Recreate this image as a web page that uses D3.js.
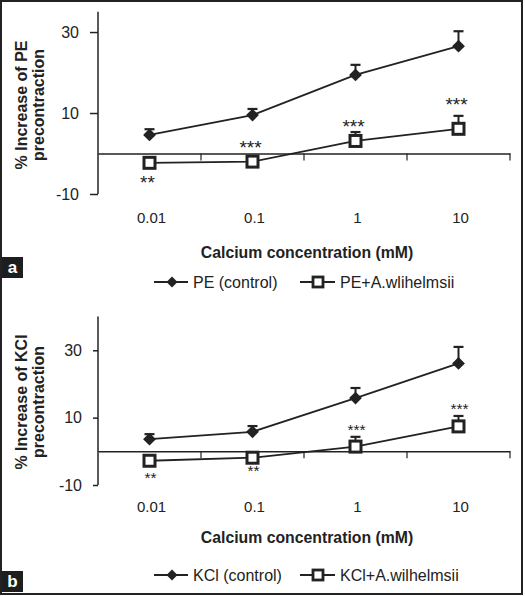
<!DOCTYPE html>
<html>
<head>
<meta charset="utf-8">
<script src="https://cdn.jsdelivr.net/npm/d3@7/dist/d3.min.js"></script>
<style>
  html, body { margin: 0; padding: 0; background: #fff; }
  svg { display: block; }
  text { font-family: Arial, "Liberation Sans", sans-serif; fill: #222; }
</style>
</head>
<body>
<svg id="chart" width="525" height="596"></svg>
<script>
// ---- data ----
const categories = ["0.01", "0.1", "1", "10"];
const yTicksA = [-10, 10, 30];
const yTicksB = [-10, 10, 30];

const peControl = [4.6, 9.5, 19.4, 26.5];
const peControlErr = [1.4, 1.5, 2.5, 3.7];
const peExtract = [-2.3, -2.0, 3.1, 6.1];
const peExtractErr = [0.5, 0.5, 2.2, 3.2];
const peStars = ["**", "***", "***", "***"];
const peStarY = [-6.0, 2.6, 7.8, 13.2];

const kclControl = [3.6, 5.8, 15.8, 26.1];
const kclControlErr = [1.5, 1.7, 3.0, 4.9];
const kclExtract = [-2.8, -1.9, 1.4, 7.4];
const kclExtractErr = [0.5, 0.5, 2.9, 3.1];
const kclStars = ["**", "**", "***", "***"];
const kclStarY = [-6.7, -4.6, 7.6, 13.7];

const legendA = ["PE (control)", "PE+A.wlihelmsii"];
const legendB = ["KCl (control)", "KCl+A.wilhelmsii"];
const yLabelA = ["% Increase of PE", "precontraction"];
const yLabelB = ["% Increase of KCl", "precontraction"];
const xTitle = "Calcium concentration (mM)";

const svg = d3.select("#chart");
const ink = "#222";

function drawPanel(cfg) {
  const g = svg.append("g").attr("transform", `translate(0,${cfg.offset})`);
  const x = d3.scaleBand().domain(categories).range([98, 510]);
  const y = d3.scaleLinear().domain(cfg.yDomain).range(cfg.yRange);
  const cx = d => x(d) + x.bandwidth() / 2;

  // y axis
  const yAxis = g.append("g").attr("transform", "translate(98,0)")
    .call(d3.axisLeft(y).tickValues(cfg.yTicks).tickSize(cfg.tickLen).tickPadding(cfg.tickPad).tickFormat(d3.format("d")));
  yAxis.select(".domain").attr("d", `M0,${y(cfg.yDomain[1])}V${y(cfg.yDomain[0])}`).attr("stroke", ink).attr("stroke-width", 1.5);
  yAxis.selectAll(".tick line").attr("stroke", ink).attr("stroke-width", 1.5);
  yAxis.selectAll(".tick text").attr("font-size", 16).attr("fill", ink)
    .style("font-family", 'Arial, "Liberation Sans", sans-serif')
    .text(d => d < 0 ? "-" + Math.abs(d) : d);

  // x axis at zero
  const xAxis = g.append("g").attr("transform", `translate(0,${y(0)})`)
    .call(d3.axisBottom(x).tickSize(0).tickFormat(""));
  xAxis.select(".domain").attr("stroke", ink).attr("stroke-width", 1.5);
  xAxis.selectAll(".tick").remove();
  const bounds = categories.map(c => x(c) + x.bandwidth());
  xAxis.selectAll("line.bt").data(bounds).join("line").attr("class", "bt")
    .attr("x1", d => d).attr("x2", d => d).attr("y1", 0).attr("y2", 7)
    .attr("stroke", ink).attr("stroke-width", 1.2);

  // x tick labels
  g.selectAll("text.xl").data(categories).join("text").attr("class", "xl")
    .attr("x", d => cx(d) + 2).attr("y", cfg.xLabelY)
    .attr("text-anchor", "middle").attr("font-size", 15).text(d => d);

  // x title
  g.append("text").attr("x", 307).attr("y", cfg.xTitleY).attr("text-anchor", "middle")
    .attr("font-size", 15.8).attr("font-weight", "bold").text(xTitle);

  // y title
  cfg.yLabel.forEach((t, i) => {
    g.append("text").attr("transform", `translate(${i === 0 ? 27 : 44},${cfg.yLabelCY}) rotate(-90)`)
      .attr("text-anchor", "middle").attr("font-size", 16).attr("font-weight", "bold").text(t);
  });

  const line = d3.line().x((d, i) => cx(categories[i])).y(d => y(d));

  [ {vals: cfg.control, err: cfg.controlErr}, {vals: cfg.extract, err: cfg.extractErr} ].forEach(s => {
    g.append("path").datum(s.vals).attr("d", line).attr("fill", "none")
      .attr("stroke", ink).attr("stroke-width", 1.8);
    s.vals.forEach((v, i) => {
      const px = cx(categories[i]);
      g.append("line").attr("x1", px).attr("x2", px).attr("y1", y(v)).attr("y2", y(v + s.err[i]))
        .attr("stroke", ink).attr("stroke-width", 2);
      g.append("line").attr("x1", px - 5).attr("x2", px + 5).attr("y1", y(v + s.err[i])).attr("y2", y(v + s.err[i]))
        .attr("stroke", ink).attr("stroke-width", 2.2);
    });
  });

  // diamonds
  g.selectAll("path.dm").data(cfg.control).join("path").attr("class", "dm")
    .attr("d", d3.symbol().type(d3.symbolSquare).size(82)())
    .attr("transform", (d, i) => `translate(${cx(categories[i])},${y(d)}) rotate(45)`)
    .attr("fill", ink);
  // squares
  g.selectAll("rect.sq").data(cfg.extract).join("rect").attr("class", "sq")
    .attr("x", (d, i) => cx(categories[i]) - 5.5).attr("y", d => y(d) - 5.5)
    .attr("width", 11).attr("height", 11)
    .attr("fill", "#fff").attr("stroke", ink).attr("stroke-width", 3);

  // stars
  g.selectAll("text.st").data(cfg.stars).join("text").attr("class", "st")
    .attr("x", (d, i) => cx(categories[i]) + cfg.starDx)
    .attr("y", (d, i) => y(cfg.starY[i]) + cfg.starFs * 0.59)
    .attr("text-anchor", "middle").attr("font-size", cfg.starFs).text(d => d);

  // legend
  const ly = cfg.legendY;
  g.append("line").attr("x1", 154).attr("x2", 188).attr("y1", ly).attr("y2", ly).attr("stroke", ink).attr("stroke-width", 1.8);
  g.append("path").attr("d", d3.symbol().type(d3.symbolSquare).size(60)())
    .attr("transform", `translate(172,${ly}) rotate(45)`).attr("fill", ink);
  g.append("text").attr("x", 193).attr("y", ly + 6).attr("font-size", 16).text(cfg.legend[0]);
  g.append("line").attr("x1", 300).attr("x2", 335).attr("y1", ly).attr("y2", ly).attr("stroke", ink).attr("stroke-width", 1.8);
  g.append("rect").attr("x", 313).attr("y", ly - 5).attr("width", 10).attr("height", 10)
    .attr("fill", "#fff").attr("stroke", ink).attr("stroke-width", 2.8);
  g.append("text").attr("x", 340).attr("y", ly + 6).attr("font-size", 16).text(cfg.legend[1]);

  // panel letter
  g.append("rect").attr("x", 2).attr("y", cfg.letterY).attr("width", 21).attr("height", 21).attr("fill", "#1e1e1e");
  g.append("text").attr("x", 12.5).attr("y", cfg.letterY + 16).attr("text-anchor", "middle")
    .attr("font-size", 17).attr("font-weight", "bold").style("fill", "#fff").text(cfg.letter);
}

drawPanel({
  offset: 0, yDomain: [-10, 35], yRange: [194, 11.8], yTicks: yTicksA, tickLen: 8, tickPad: 11,
  control: peControl, controlErr: peControlErr, extract: peExtract, extractErr: peExtractErr,
  stars: peStars, starY: peStarY, starFs: 19, starDx: -2,
  xLabelY: 223, xTitleY: 258, yLabel: yLabelA, yLabelCY: 105,
  legend: legendA, legendY: 282, letter: "a", letterY: 257
});

drawPanel({
  offset: 300, yDomain: [-10, 40], yRange: [185, 16.6], yTicks: yTicksB, tickLen: 5, tickPad: 11,
  control: kclControl, controlErr: kclControlErr, extract: kclExtract, extractErr: kclExtractErr,
  stars: kclStars, starY: kclStarY, starFs: 15.5, starDx: 1,
  xLabelY: 212, xTitleY: 243, yLabel: yLabelB, yLabelCY: 102,
  legend: legendB, legendY: 275, letter: "b", letterY: 271
});

// outer frame
svg.append("rect").attr("x", 1).attr("y", 1).attr("width", 521).attr("height", 593)
  .attr("fill", "none").attr("stroke", ink).attr("stroke-width", 2);
</script>
</body>
</html>
